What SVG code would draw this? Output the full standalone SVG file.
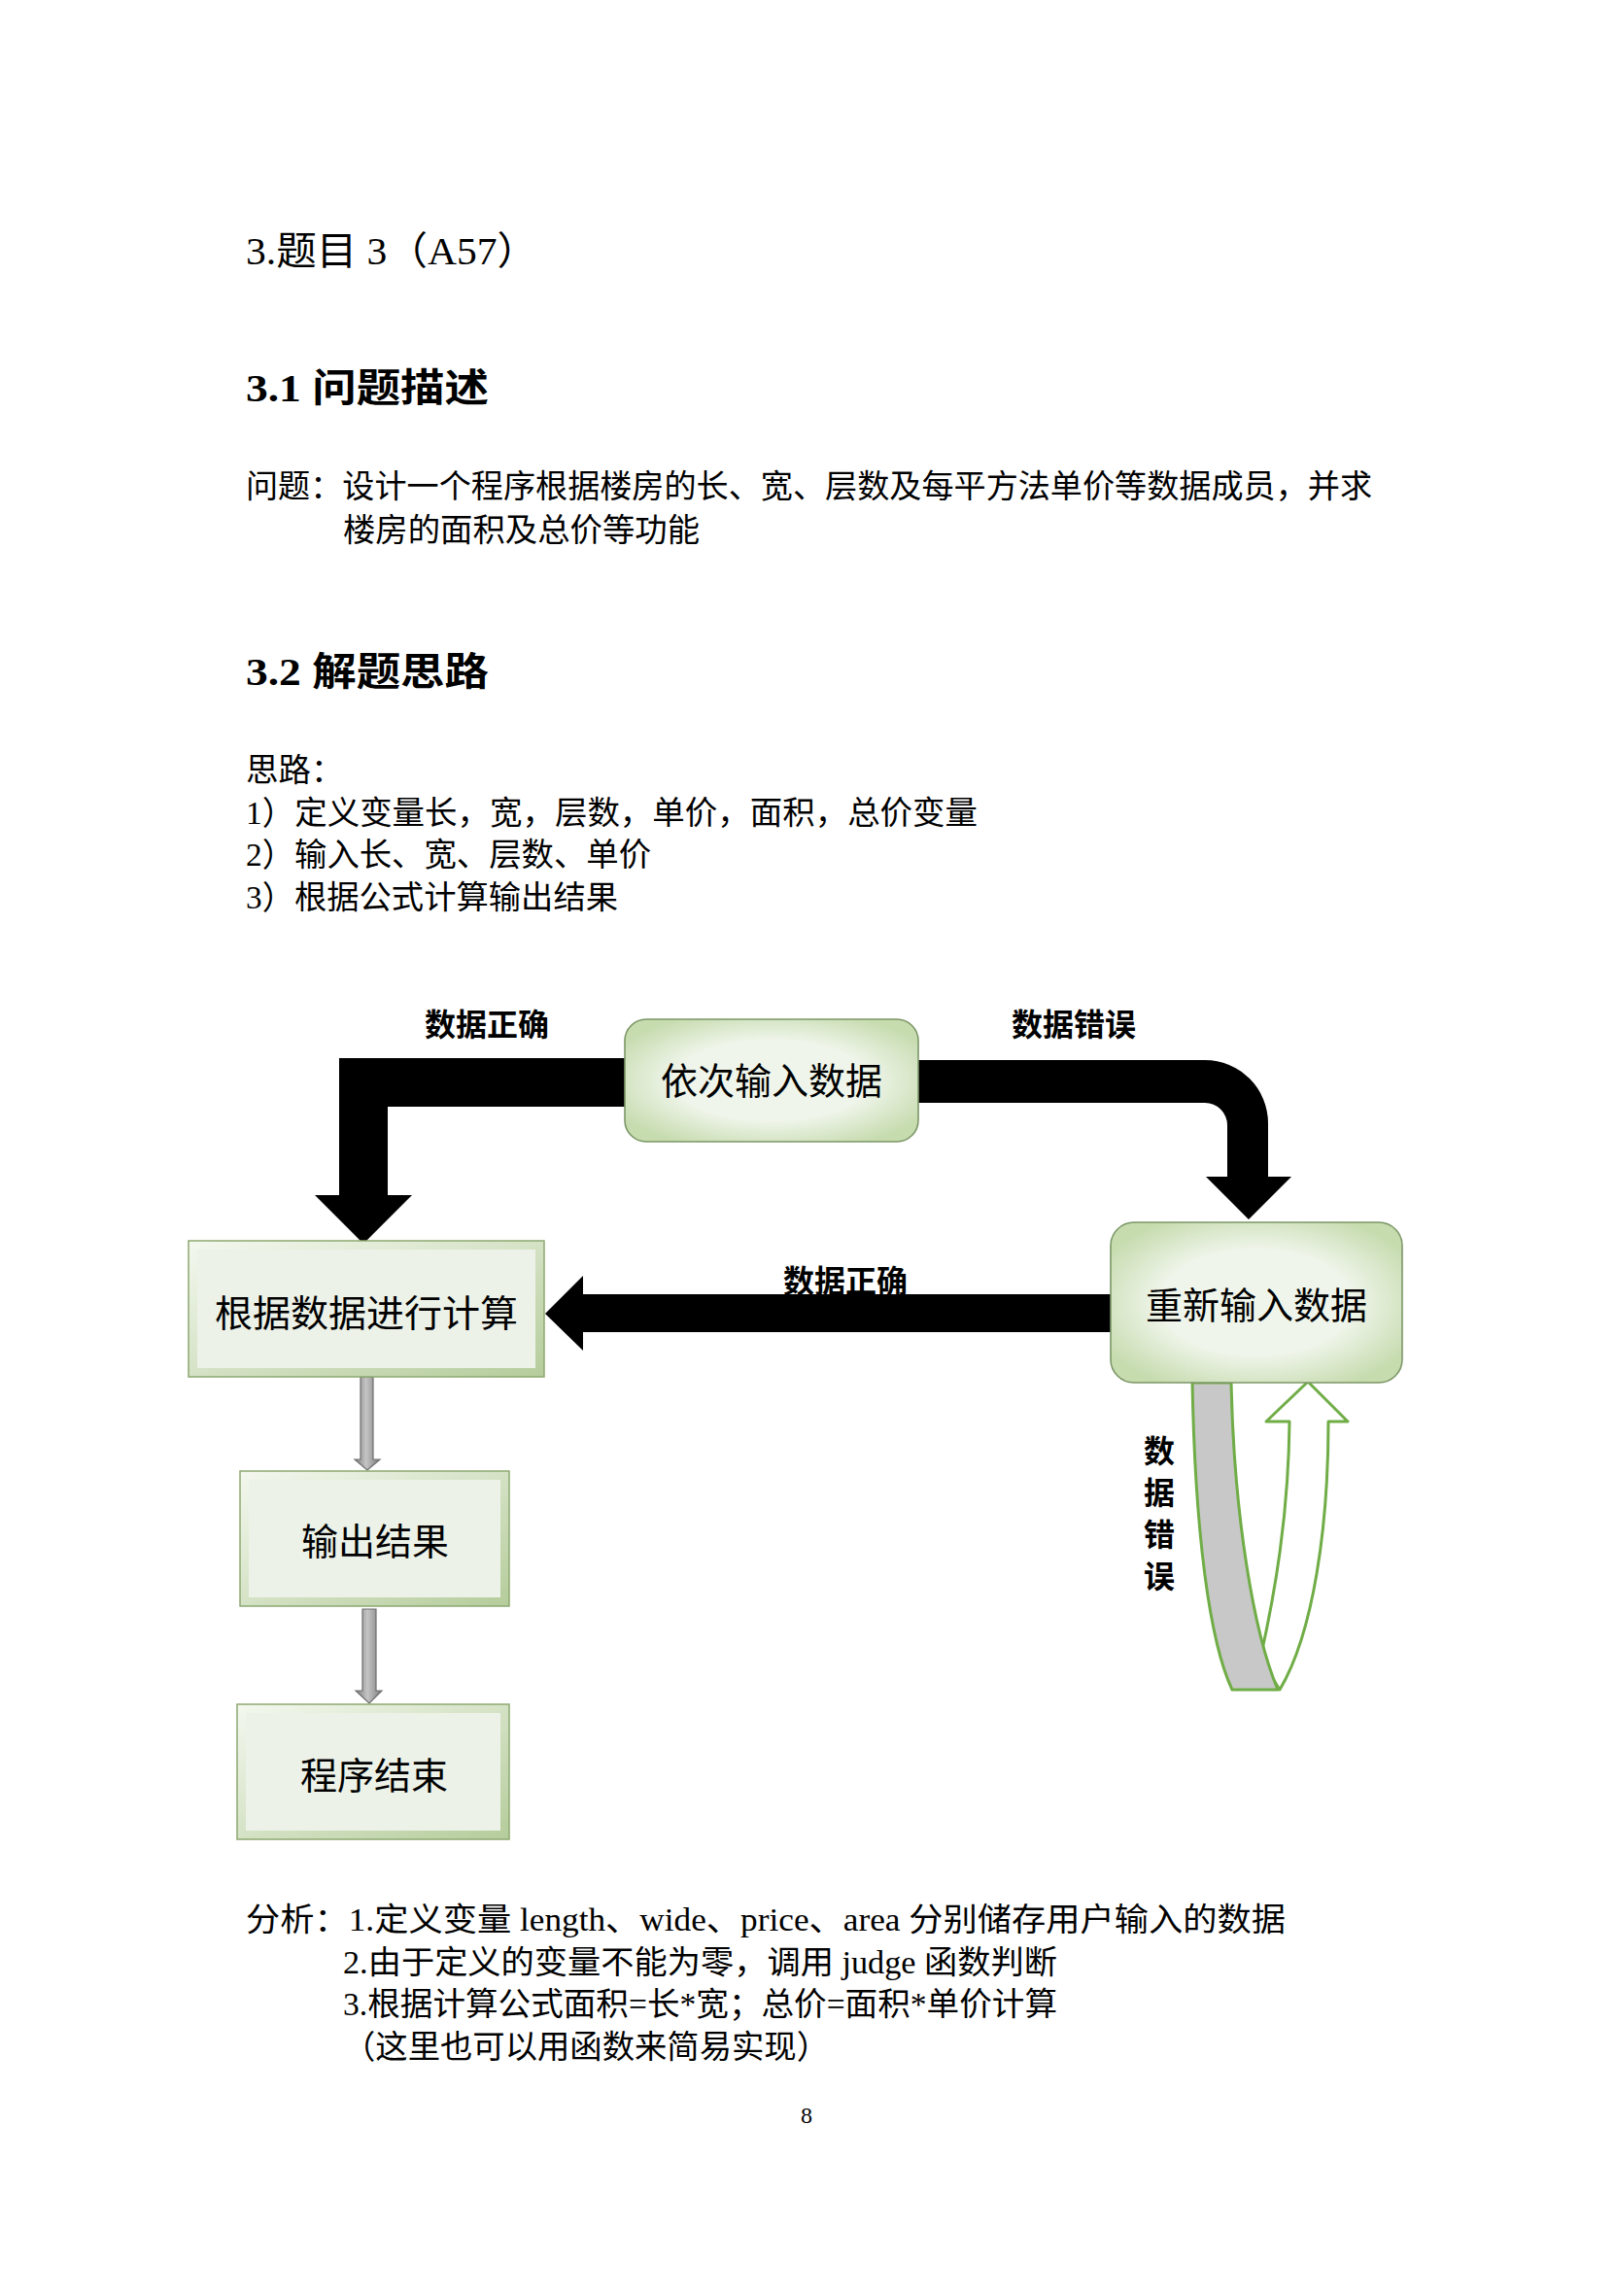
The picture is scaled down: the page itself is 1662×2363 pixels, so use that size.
<svg xmlns="http://www.w3.org/2000/svg" width="1662" height="2363" viewBox="0 0 1662 2363">
<style>
.t{font-family:"Liberation Serif","Noto Sans CJK SC",serif;fill:#000}
.body{font-size:33.5px}
.head{font-size:40px}
.hb{font-size:40px;font-weight:bold}
.lbl{font-family:"Noto Sans CJK SC",sans-serif;font-size:32px;font-weight:bold;fill:#000}
.bx{font-family:"Noto Sans CJK SC",sans-serif;font-size:38px;fill:#000;text-anchor:middle}
.blk{fill:#000}
.gray{fill:url(#gg);stroke:#6e6e6e;stroke-width:1.2}
.rbox{fill:url(#rg);stroke:#7c9767;stroke-width:1.6}
.bev{fill:url(#bv);stroke:#8da870;stroke-width:1.5}
.bin{fill:#edf2e8}
.u{stroke:#70ad47;stroke-width:3;stroke-linejoin:round}
</style>
<defs>
<radialGradient id="rg" cx="0.5" cy="0.5" r="0.6">
<stop offset="0.55" stop-color="#eff5ea"/>
<stop offset="1" stop-color="#c6dbae"/>
</radialGradient>
<linearGradient id="bv" x1="0" y1="0" x2="1" y2="1">
<stop offset="0" stop-color="#f4f8ef"/>
<stop offset="1" stop-color="#b5cc9b"/>
</linearGradient>
<linearGradient id="gg" x1="0" y1="0" x2="1" y2="0">
<stop offset="0" stop-color="#7e7e7e"/>
<stop offset="0.45" stop-color="#c4c4c4"/>
<stop offset="1" stop-color="#7a7a7a"/>
</linearGradient>
</defs>
<rect width="1662" height="2363" fill="#fff"/>

<g id="texts">
<text class="t head" x="253" y="272" textLength="300" lengthAdjust="spacingAndGlyphs">3.题目 3（A57）</text>
<text class="t hb" x="253" y="413" textLength="250" lengthAdjust="spacingAndGlyphs">3.1 问题描述</text>
<text class="t body" x="253" y="512" textLength="1159" lengthAdjust="spacingAndGlyphs">问题：设计一个程序根据楼房的长、宽、层数及每平方法单价等数据成员，并求</text>
<text class="t body" x="353" y="557" textLength="367" lengthAdjust="spacingAndGlyphs">楼房的面积及总价等功能</text>
<text class="t hb" x="253" y="705" textLength="250" lengthAdjust="spacingAndGlyphs">3.2 解题思路</text>
<text class="t body" x="253" y="804">思路：</text>
<text class="t body" x="253" y="848" textLength="753" lengthAdjust="spacingAndGlyphs">1）定义变量长，宽，层数，单价，面积，总价变量</text>
<text class="t body" x="253" y="891" textLength="417" lengthAdjust="spacingAndGlyphs">2）输入长、宽、层数、单价</text>
<text class="t body" x="253" y="935" textLength="383" lengthAdjust="spacingAndGlyphs">3）根据公式计算输出结果</text>
<text class="t body" x="253" y="1987" textLength="1070" lengthAdjust="spacingAndGlyphs">分析：1.定义变量 length、wide、price、area 分别储存用户输入的数据</text>
<text class="t body" x="353" y="2031" textLength="735" lengthAdjust="spacingAndGlyphs">2.由于定义的变量不能为零，调用 judge 函数判断</text>
<text class="t body" x="353" y="2074" textLength="735" lengthAdjust="spacingAndGlyphs">3.根据计算公式面积=长*宽；总价=面积*单价计算</text>
<text class="t body" x="353" y="2118" textLength="500" lengthAdjust="spacingAndGlyphs">（这里也可以用函数来简易实现）</text>
<text class="t" x="830" y="2185" font-size="24" text-anchor="middle">8</text>
</g>

<g id="connectors">
<path class="blk" d="M660,1089 L349,1089 L349,1230 L324,1230 L374,1280 L424,1230 L399,1230 L399,1139 L660,1139 Z"/>
<path class="blk" d="M930,1091 L1240,1091 A65,65 0 0 1 1305,1156 L1305,1211 L1329,1211 L1285,1255 L1241,1211 L1263,1211 L1263,1158 A23,23 0 0 0 1240,1135 L930,1135 Z"/>
<path class="blk" d="M1155,1332 L600,1332 L600,1313 L561,1352 L600,1390 L600,1371 L1155,1371 Z"/>
<path class="gray" d="M371,1417 L384,1417 L384,1502 L391,1502 L378,1513 L365,1502 L371,1502 Z"/>
<path class="gray" d="M373,1656 L387,1656 L387,1740 L393,1740 L380,1753 L366,1740 L373,1740 Z"/>
<path class="u" fill="#ffffff" d="M1297,1707 C1312,1640 1326,1560 1327,1463 L1303,1463 L1346,1422 L1387,1463 L1367,1463 C1367,1570 1352,1680 1317,1739 Z"/>
<path class="u" fill="#c8c8c8" d="M1227,1423 L1267,1423 C1270,1560 1290,1680 1315,1739 L1268,1739 C1245,1690 1230,1580 1227,1423 Z"/>
<text class="lbl" x="437" y="1066">数据正确</text>
<text class="lbl" x="1041" y="1066">数据错误</text>
<text class="lbl" x="806" y="1330">数据正确</text>
<text class="lbl" x="1193" y="1477" writing-mode="tb" letter-spacing="11">数据错误</text>
</g>

<g id="node-input">
<rect class="rbox" x="643" y="1049" width="302" height="126" rx="22"/>
<text class="bx" x="794" y="1126">依次输入数据</text>
</g>

<g id="node-reinput">
<rect class="rbox" x="1143" y="1258" width="300" height="165" rx="24"/>
<text class="bx" x="1293" y="1357">重新输入数据</text>
</g>

<g id="node-calc">
<rect class="bev" x="194" y="1277" width="366" height="140"/>
<rect class="bin" x="203" y="1286" width="348" height="122"/>
<text class="bx" x="377" y="1365" font-size="44" textLength="312" lengthAdjust="spacingAndGlyphs">根据数据进行计算</text>
</g>

<g id="node-output">
<rect class="bev" x="247" y="1514" width="277" height="139"/>
<rect class="bin" x="256" y="1523" width="259" height="121"/>
<text class="bx" x="386" y="1600" font-size="39">输出结果</text>
</g>

<g id="node-end">
<rect class="bev" x="244" y="1754" width="280" height="139"/>
<rect class="bin" x="253" y="1763" width="262" height="121"/>
<text class="bx" x="385" y="1841" font-size="39">程序结束</text>
</g>
</svg>
